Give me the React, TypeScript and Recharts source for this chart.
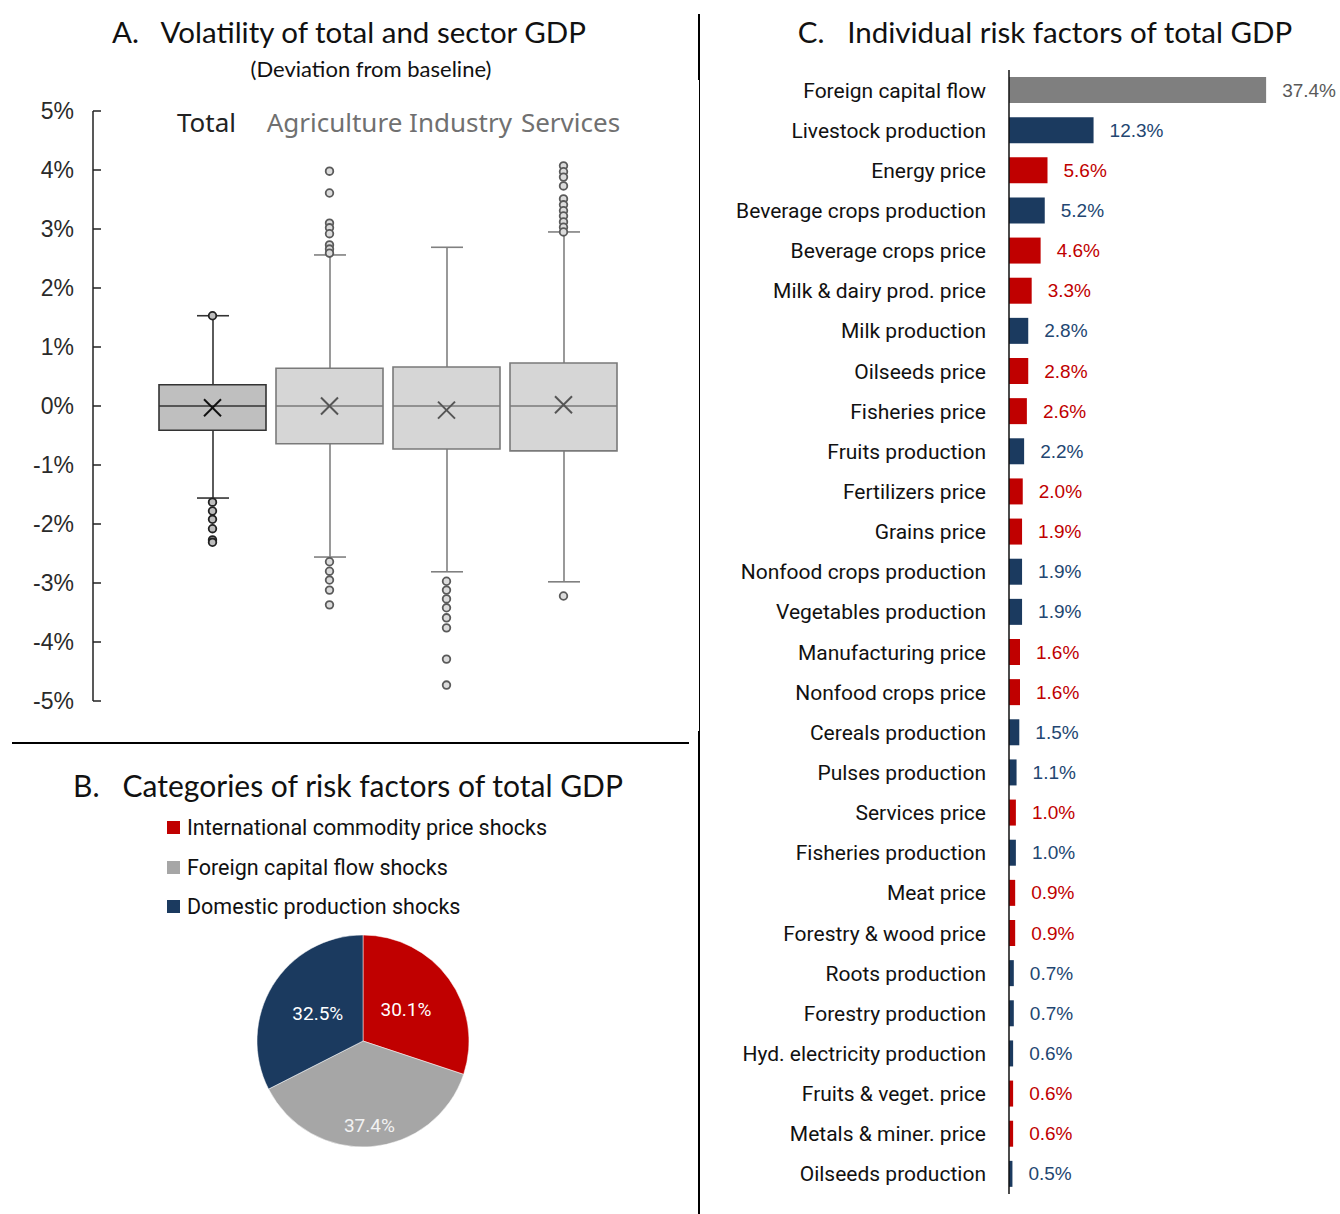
import React from "react"
import {
  ComposedChart,
  BarChart,
  PieChart,
  Pie,
  Bar,
  Scatter,
  XAxis,
  YAxis,
  Cell,
  LabelList,
  Legend,
} from "recharts"

// ---- Panel A: box plot of deviation from baseline (%) ----
const sectors = ["Total", "Agriculture", "Industry", "Services"]
const whiskerLow = [-1.56, -2.56, -2.81, -2.98]
const quartile1 = [-0.41, -0.64, -0.73, -0.76]
const medians = [0, 0, 0, 0]
const quartile3 = [0.36, 0.64, 0.66, 0.73]
const whiskerHigh = [1.53, 2.56, 2.69, 2.95]
const means = [-0.03, 0, -0.07, 0.02]
const totalOutliers = [1.53, -1.63, -1.78, -1.92, -2.08, -2.27, -2.31]
const agricultureOutliers = [3.98, 3.61, 3.1, 3.02, 2.92, 2.73, 2.66, 2.59, -2.64, -2.8, -2.95, -3.12, -3.37]
const industryOutliers = [-2.97, -3.12, -3.27, -3.42, -3.59, -3.76, -4.29, -4.73]
const servicesOutliers = [4.07, 3.97, 3.88, 3.73, 3.51, 3.41, 3.31, 3.22, 3.12, 3.03, 2.95, -3.22]
const boxTicks = [5, 4, 3, 2, 1, 0, -1, -2, -3, -4, -5]

// ---- Panel B: categories of risk factors ----
const shockCategories = [
  "International commodity price shocks",
  "Foreign capital flow shocks",
  "Domestic production shocks",
]
const shockShares = [30.1, 37.4, 32.5]

// ---- Panel C: individual risk factors ----
const factorNames = [
  "Foreign capital flow",
  "Livestock production",
  "Energy price",
  "Beverage crops production",
  "Beverage crops price",
  "Milk & dairy prod. price",
  "Milk production",
  "Oilseeds price",
  "Fisheries price",
  "Fruits production",
  "Fertilizers price",
  "Grains price",
  "Nonfood crops production",
  "Vegetables production",
  "Manufacturing price",
  "Nonfood crops price",
  "Cereals production",
  "Pulses production",
  "Services price",
  "Fisheries production",
  "Meat price",
  "Forestry & wood price",
  "Roots production",
  "Forestry production",
  "Hyd. electricity production",
  "Fruits & veget. price",
  "Metals & miner. price",
  "Oilseeds production",
]
const factorShares = [
  37.4, 12.3, 5.6, 5.2, 4.6, 3.3, 2.8, 2.8, 2.6, 2.2, 2.0, 1.9, 1.9, 1.9,
  1.6, 1.6, 1.5, 1.1, 1.0, 1.0, 0.9, 0.9, 0.7, 0.7, 0.6, 0.6, 0.6, 0.5,
]
const factorGroups = [
  "capital", "production", "price", "production", "price", "price", "production",
  "price", "price", "production", "price", "price", "production", "production",
  "price", "price", "production", "production", "price", "production", "price",
  "price", "production", "production", "production", "price", "price", "production",
]

const RED = "#c00000"
const NAVY = "#1b3a5f"
const BAR_COLORS: Record<string, string> = { capital: "#7f7f7f", production: NAVY, price: RED }
const LABEL_COLORS: Record<string, string> = { capital: "#595959", production: "#234671", price: RED }
const PIE_COLORS = [RED, "#a6a6a6", NAVY]

const BOX_W = 107
const CAP_W = 32

const boxRows = sectors.map((name, i) => ({
  name,
  lo: whiskerLow[i],
  q1: quartile1[i],
  med: medians[i],
  q3: quartile3[i],
  hi: whiskerHigh[i],
  mean: means[i],
}))

const outlierRows = [
  ...totalOutliers.map((v) => ({ name: "Total", v })),
  ...agricultureOutliers.map((v) => ({ name: "Agriculture", v })),
  ...industryOutliers.map((v) => ({ name: "Industry", v })),
  ...servicesOutliers.map((v) => ({ name: "Services", v })),
]

const pieRows = shockCategories.map((name, i) => ({ name, share: shockShares[i] }))

const factorRows = factorNames.map((name, i) => ({
  name,
  share: factorShares[i],
  group: factorGroups[i],
}))

const isTotal = (name: string) => name === "Total"

function Whisker(props: any) {
  const { x, y, width, height, payload } = props
  const top = Math.min(y, y + height)
  const bot = Math.max(y, y + height)
  const cx = x + width / 2
  const c = isTotal(payload.name) ? "#333" : "#808080"
  return (
    <g stroke={c} strokeWidth={1.6}>
      <line x1={cx} x2={cx} y1={top} y2={bot} />
      <line x1={x} x2={x + width} y1={top} y2={top} />
      <line x1={x} x2={x + width} y1={bot} y2={bot} />
    </g>
  )
}

function MedianLine(props: any) {
  const { cx, cy, payload } = props
  const c = isTotal(payload.name) ? "#333" : "#7a7a7a"
  return <line x1={cx - BOX_W / 2} x2={cx + BOX_W / 2} y1={cy} y2={cy} stroke={c} strokeWidth={1.6} />
}

function MeanCross(props: any) {
  const { cx, cy, payload } = props
  const c = isTotal(payload.name) ? "#111" : "#555"
  const s = 8.5
  return (
    <g stroke={c} strokeWidth={2}>
      <line x1={cx - s} x2={cx + s} y1={cy - s} y2={cy + s} />
      <line x1={cx - s} x2={cx + s} y1={cy + s} y2={cy - s} />
    </g>
  )
}

function OutlierDot(props: any) {
  const { cx, cy, payload } = props
  const total = isTotal(payload.name)
  return (
    <circle
      cx={cx}
      cy={cy}
      r={3.8}
      fill={total ? "#bdbdbd" : "#dcdcdc"}
      stroke={total ? "#222" : "#5a5a5a"}
      strokeWidth={1.8}
    />
  )
}

const labelShift: Record<string, number> = { Total: -6, Agriculture: 5, Industry: 14, Services: 7 }

function SectorTick(props: any) {
  const { x, y, payload } = props
  const name = payload.value
  return (
    <text
      x={x + (labelShift[name] || 0)}
      y={y + 29}
      textAnchor="middle"
      fontSize={26}
      fontFamily="Noto Sans, sans-serif"
      fill={isTotal(name) ? "#222" : "#707070"}
    >
      {name}
    </text>
  )
}

function ValueLabel(props: any) {
  const vb = props.viewBox || props
  const { x, y, width, height } = vb
  const g = factorGroups[props.index]
  return (
    <text
      x={x + width + 16}
      y={y + height / 2}
      dominantBaseline="central"
      fill={LABEL_COLORS[g]}
      fontSize={19}
      fontFamily="Liberation Sans, Arial, sans-serif"
    >
      {Number(props.value).toFixed(1)}%
    </text>
  )
}

function renderPieLabel(p: any) {
  const RAD = Math.PI / 180
  const r = p.outerRadius * (p.index === 1 ? 0.8 : 0.5)
  const x = p.cx + r * Math.cos(-p.midAngle * RAD)
  const y = p.cy + r * Math.sin(-p.midAngle * RAD)
  const v = p.payload?.share ?? p.value
  return (
    <text
      x={x}
      y={y}
      textAnchor="middle"
      dominantBaseline="central"
      fill={p.index === 1 ? "#f2f2f2" : "#fff"}
      fontSize={19}
      fontFamily="Roboto, sans-serif"
    >
      {Number(v).toFixed(1)}%
    </text>
  )
}

function ShockLegend() {
  return (
    <div style={{ height: 120, fontFamily: "Roboto, sans-serif" }}>
      {pieRows.map((r, i) => (
        <div key={r.name} style={{ display: "flex", alignItems: "center", height: 39.5 }}>
          <div style={{ width: 13, height: 13, background: PIE_COLORS[i], marginRight: 7 }} />
          <span style={{ fontSize: 21.5, color: "#111" }}>{r.name}</span>
        </div>
      ))}
    </div>
  )
}

const titleStyle: React.CSSProperties = {
  position: "absolute",
  textAlign: "center",
  whiteSpace: "pre",
  fontFamily: "Lato, sans-serif",
  color: "#111",
}

export default function App() {
  return (
    <div
      style={{
        position: "absolute",
        left: 0,
        top: 0,
        width: 1340,
        height: 1214,
        overflow: "hidden",
        background: "#fff",
      }}
    >
      {/* dividers */}
      <div style={{ position: "absolute", left: 698, top: 14, width: 2, height: 66, background: "#000" }} />
      <div style={{ position: "absolute", left: 699, top: 80, width: 1, height: 651, background: "#000" }} />
      <div style={{ position: "absolute", left: 698, top: 731, width: 2, height: 483, background: "#000" }} />
      <div style={{ position: "absolute", left: 12, top: 742, width: 677, height: 2, background: "#000" }} />

      {/* Panel A */}
      <div style={{ ...titleStyle, left: 0, top: 13, width: 698, fontSize: 29.5, lineHeight: "38px" }}>
        {"A.   Volatility of total and sector GDP"}
      </div>
      <div style={{ ...titleStyle, left: 0, top: 56, width: 742, fontSize: 22, lineHeight: "26px" }}>
        (Deviation from baseline)
      </div>
      <div style={{ position: "absolute", left: 12, top: 90 }}>
        <ComposedChart
          width={678}
          height={630}
          data={boxRows}
          margin={{ top: 20, right: 68, bottom: 19, left: 0 }}
        >
          <XAxis xAxisId="w" dataKey="name" type="category" hide padding={{ left: 61, right: 0 }} />
          <XAxis
            xAxisId="b"
            dataKey="name"
            type="category"
            orientation="top"
            height={1}
            axisLine={false}
            tickLine={false}
            padding={{ left: 61, right: 0 }}
            tick={<SectorTick />}
            interval={0}
          />
          <XAxis
            xAxisId="o"
            dataKey="name"
            type="category"
            hide
            allowDuplicatedCategory={false}
            padding={{ left: 61, right: 0 }}
          />
          <YAxis
            type="number"
            domain={[-5, 5]}
            ticks={boxTicks}
            interval={0}
            width={81}
            tickFormatter={(v) => `${v}%`}
            tick={{ fontSize: 23, fill: "#2a2a2a", fontFamily: "Liberation Sans, Arial, sans-serif" }}
            axisLine={{ stroke: "#222", strokeWidth: 1.5 }}
            tickLine={{ stroke: "#222", strokeWidth: 1.5 }}
            tickSize={-8}
            tickMargin={27}
          />
          <Bar
            xAxisId="w"
            dataKey={(d: any) => [d.lo, d.hi]}
            barSize={CAP_W}
            shape={<Whisker />}
            isAnimationActive={false}
          />
          <Bar xAxisId="b" dataKey={(d: any) => [d.q1, d.q3]} barSize={BOX_W} isAnimationActive={false}>
            {boxRows.map((r) => (
              <Cell
                key={r.name}
                fill={isTotal(r.name) ? "#bfbfbf" : "#d6d6d6"}
                stroke={isTotal(r.name) ? "#333" : "#7a7a7a"}
                strokeWidth={1.6}
              />
            ))}
          </Bar>
          <Scatter xAxisId="b" dataKey="med" shape={<MedianLine />} isAnimationActive={false} />
          <Scatter xAxisId="b" dataKey="mean" shape={<MeanCross />} isAnimationActive={false} />
          <Scatter xAxisId="o" data={outlierRows} dataKey="v" shape={<OutlierDot />} isAnimationActive={false} />
        </ComposedChart>
      </div>

      {/* Panel B */}
      <div style={{ ...titleStyle, left: 0, top: 765, width: 696, fontSize: 30, lineHeight: "40px" }}>
        {"B.   Categories of risk factors of total GDP"}
      </div>
      <div style={{ position: "absolute", left: 12, top: 808 }}>
        <PieChart width={678} height={350} margin={{ top: 0, right: 0, bottom: 0, left: 0 }}>
          <Legend
            layout="horizontal"
            verticalAlign="top"
            align="left"
            content={<ShockLegend />}
            wrapperStyle={{ left: 155, top: 0, width: 450 }}
          />
          <Pie
            data={pieRows}
            dataKey="share"
            nameKey="name"
            cx={351}
            cy={113}
            outerRadius={106}
            startAngle={90}
            endAngle={-270}
            stroke="#fff"
            strokeWidth={0.5}
            labelLine={false}
            label={renderPieLabel}
            isAnimationActive={false}
          >
            {pieRows.map((r, i) => (
              <Cell key={r.name} fill={PIE_COLORS[i]} />
            ))}
          </Pie>
        </PieChart>
      </div>

      {/* Panel C */}
      <div style={{ ...titleStyle, left: 700, top: 13, width: 690, fontSize: 29.5, lineHeight: "38px" }}>
        {"C.   Individual risk factors of total GDP"}
      </div>
      <div style={{ position: "absolute", left: 700, top: 70 }}>
        <BarChart
          width={640}
          height={1124}
          data={factorRows}
          layout="vertical"
          margin={{ top: 0, right: 56, bottom: 0, left: 0 }}
        >
          <XAxis type="number" domain={[0, 40]} hide />
          <YAxis
            type="category"
            dataKey="name"
            width={309}
            interval={0}
            tick={{ fontSize: 21, fill: "#111", fontFamily: "Roboto, sans-serif" }}
            axisLine={{ stroke: "#111", strokeWidth: 1.5 }}
            tickLine={false}
            tickSize={6}
            tickMargin={17}
          />
          <Bar dataKey="share" barSize={26} isAnimationActive={false}>
            {factorRows.map((r) => (
              <Cell key={r.name} fill={BAR_COLORS[r.group]} />
            ))}
            <LabelList dataKey="share" content={<ValueLabel />} />
          </Bar>
        </BarChart>
      </div>
    </div>
  )
}
